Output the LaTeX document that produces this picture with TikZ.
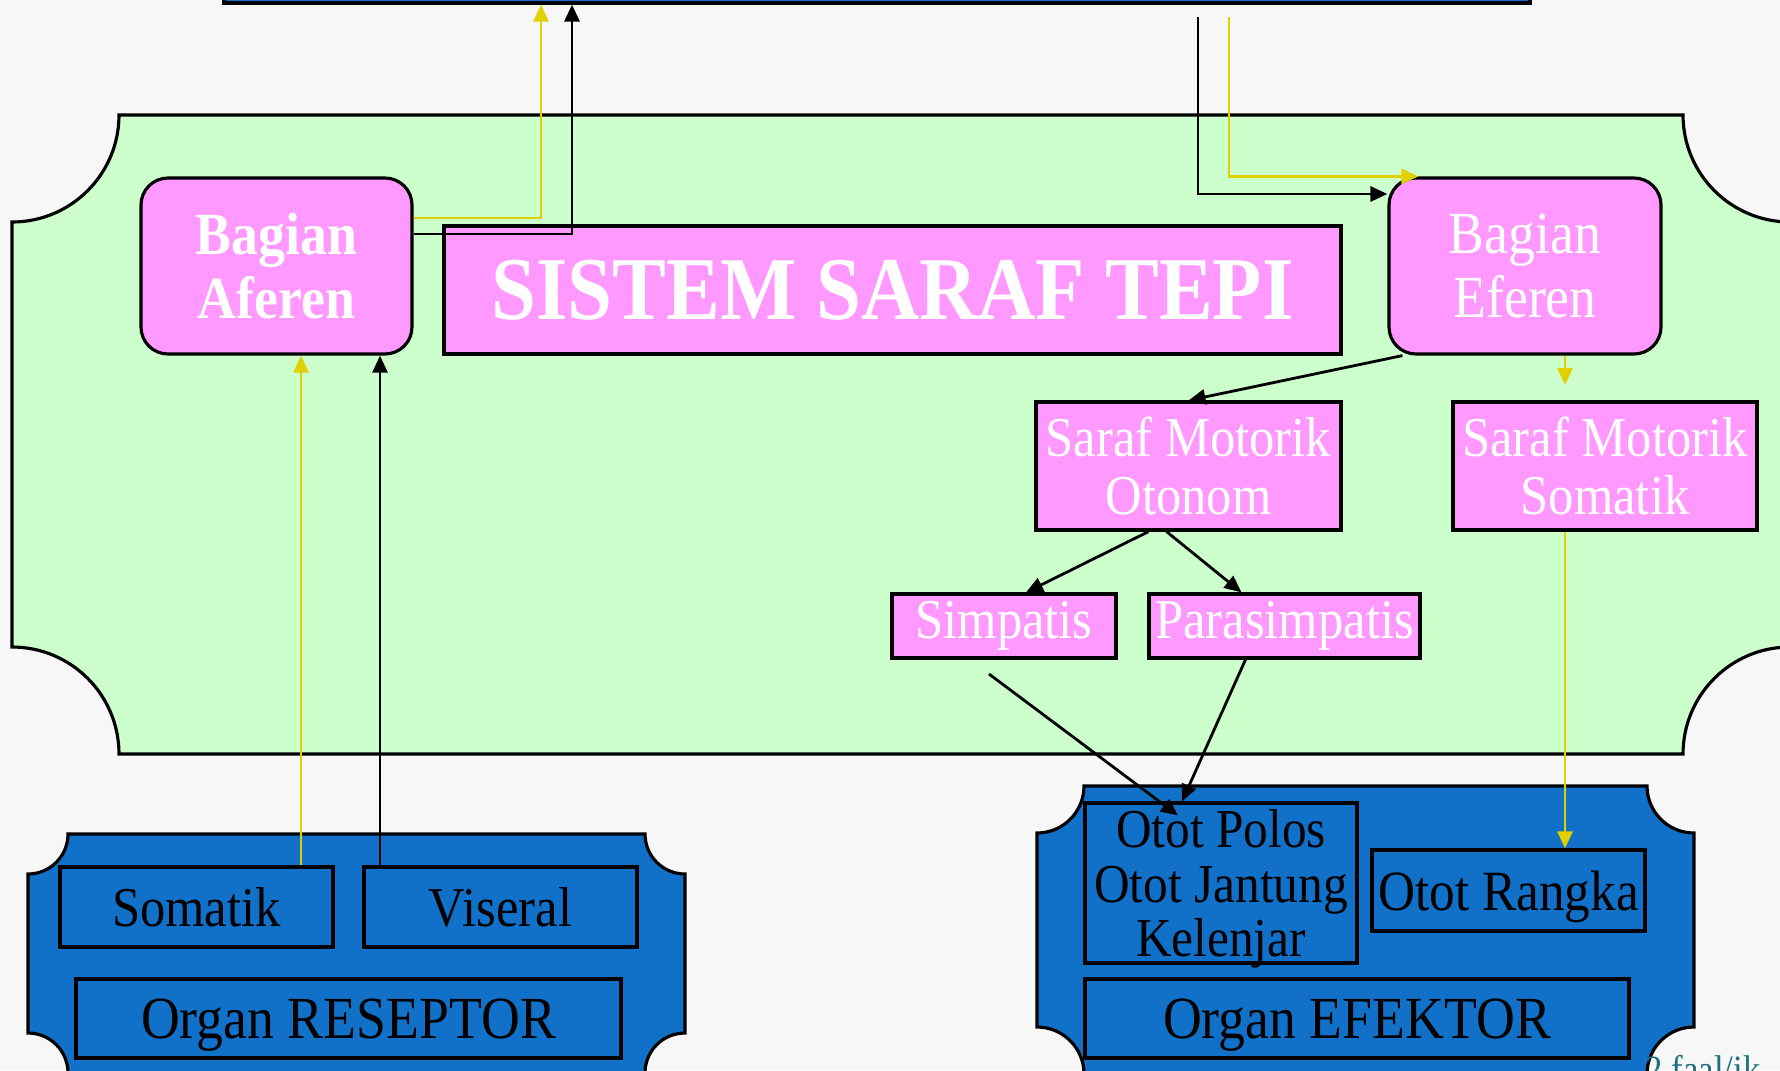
\documentclass[tikz,border=0pt]{standalone}
\usepackage{fontspec}
\setmainfont[FakeStretch=0.9]{Liberation Serif}
\usetikzlibrary{arrows.meta,calc}

\definecolor{pagebg}{HTML}{F7F7F7}
\definecolor{mint}{HTML}{CCFFCC}
\definecolor{pinkbox}{HTML}{FF99FF}
\definecolor{organblue}{HTML}{1170C8}
\definecolor{nerveyellow}{HTML}{E0D000}
\definecolor{footteal}{HTML}{216E80}

% panel with concave (scooped) corners: style, left, top, right, bottom, radius
\newcommand\ticketshape[6]{%
  \path[#1] (#2,#3+#6) .. controls (#2+0.5523*#6,#3+#6) and (#2+#6,#3+0.5523*#6) .. (#2+#6,#3)
    -- (#4-#6,#3) .. controls (#4-#6,#3+0.5523*#6) and (#4-0.5523*#6,#3+#6) .. (#4,#3+#6)
    -- (#4,#5-#6) .. controls (#4-0.5523*#6,#5-#6) and (#4-#6,#5-0.5523*#6) .. (#4-#6,#5)
    -- (#2+#6,#5) .. controls (#2+#6,#5-0.5523*#6) and (#2+0.5523*#6,#5-#6) .. (#2,#5-#6)
    -- cycle;}

\tikzset{
  pinkrect/.style={draw, line width=0.9pt, fill=pinkbox, text=white, inner sep=0pt, align=center},
  pinkround/.style={pinkrect, rounded corners=2.7mm},
  organbox/.style={draw, line width=0.9pt, fill=organblue, text=black, inner sep=0pt,
                   align=center, text depth=0pt},
  arr/.style={line width=0.8pt, -{Triangle[length=1.7mm,width=1.5mm]}},
  yarr/.style={arr, draw=nerveyellow},
  barr/.style={arr, draw=black},
}

\begin{document}
\begin{tikzpicture}[x=0.1mm, y=-0.1mm]
  \useasboundingbox (0,0) rectangle (1780,1070);
  \clip (0,0) rectangle (1780,1070);
  \fill[pagebg] (0,0) rectangle (1780,1070);

  % green peripheral nervous system panel
  \ticketshape{draw, line width=0.9pt, fill=mint}{12}{115}{1790}{754}{107}
  % blue organ panels
  \ticketshape{draw, line width=0.9pt, fill=organblue}{28}{834}{685}{1073}{40}
  \ticketshape{draw, line width=0.9pt, fill=organblue}{1037}{786}{1694}{1074}{47}

  % bar at the top (central nervous system)
  \node[organbox, minimum width=130.6mm, minimum height=2.3mm] (topbar) at (877,-8.5) {};

  % pink boxes
  \node[pinkround, minimum width=27.1mm, minimum height=17.6mm,
        font=\fontsize{17}{18.2}\selectfont\bfseries] (aferen) at (276.5,266) {Bagian\\Aferen};
  \node[pinkrect, minimum width=89.7mm, minimum height=12.8mm,
        font=\fontsize{25.5}{28}\selectfont\bfseries] (sistem) at (892.5,290) {SISTEM SARAF TEPI};
  \node[pinkround, minimum width=27.2mm, minimum height=17.6mm,
        font=\fontsize{17}{18.2}\selectfont] (eferen) at (1525,266) {Bagian\\Eferen};
  \node[pinkrect, minimum width=30.5mm, minimum height=12.8mm,
        font=\fontsize{16}{16.5}\selectfont] (otonom) at (1188.5,466) {Saraf Motorik\\Otonom};
  \node[pinkrect, minimum width=30.4mm, minimum height=12.8mm,
        font=\fontsize{16}{16.5}\selectfont] (motsomatik) at (1605,466) {Saraf Motorik\\Somatik};
  \node[pinkrect, minimum width=22.4mm, minimum height=6.4mm,
        font=\fontsize{16}{16}\selectfont] (simpatis) at (1004,626) {Simpatis};
  \node[pinkrect, minimum width=27.1mm, minimum height=6.4mm,
        font=\fontsize{16}{16}\selectfont] (parasimpatis) at (1284.5,626) {Parasimpatis};

  % receptor organ
  \node[organbox, minimum width=27.3mm, minimum height=8.0mm,
        font=\fontsize{16}{16}\selectfont] (somatik) at (196.5,907) {Somatik};
  \node[organbox, minimum width=27.3mm, minimum height=8.0mm,
        font=\fontsize{16}{16}\selectfont] (viseral) at (500.5,907) {Viseral};
  \node[organbox, minimum width=54.5mm, minimum height=7.9mm,
        font=\fontsize{17}{17}\selectfont] (reseptor) at (348.5,1018.5) {Organ RESEPTOR};

  % effector organ
  \node[organbox, minimum width=27.2mm, minimum height=16.0mm,
        font=\fontsize{15.6}{15.5}\selectfont] (ototpolos) at (1221,883) {Otot Polos\\Otot Jantung\\Kelenjar};
  \node[organbox, minimum width=27.3mm, minimum height=8.1mm,
        font=\fontsize{16.2}{16.2}\selectfont] (ototrangka) at (1508.5,890.5) {Otot Rangka};
  \node[organbox, minimum width=54.4mm, minimum height=7.9mm,
        font=\fontsize{17}{17}\selectfont] (efektor) at (1357,1018.5) {Organ EFEKTOR};

  % footer
  \node[anchor=base west, inner sep=0pt, text=footteal,
        font=\fontsize{11}{11}\selectfont] (footer) at (1645,1082) {2 faal/ik};

  % helper coordinates for connector columns and rows
  \coordinate (ax1) at (301,0);
  \coordinate (ax2) at (380,0);
  \coordinate (ax3) at (541,0);
  \coordinate (ax4) at (572,0);
  \coordinate (ay1) at (0,218);
  \coordinate (ay2) at (0,234);
  \coordinate (bt1) at (1198,17);
  \coordinate (bt2) at (1229,17);
  \coordinate (by1) at (0,194);
  \coordinate (rx)  at (1565,0);
  \coordinate (yend) at (1565,385);
  \coordinate (simout) at (989,674);

  % afferent pathway
  \draw[yarr] (somatik.north -| ax1) -- (aferen.south -| ax1);
  \draw[barr] (viseral.north -| ax2) -- (aferen.south -| ax2);
  \draw[yarr] (aferen.east |- ay1) -| (topbar.south -| ax3);
  \draw[barr] (aferen.east |- ay2) -| (topbar.south -| ax4);

  % efferent pathway
  \draw[barr] (bt1) |- (eferen.west |- by1);
  \draw[yarr] (bt2) |- ([xshift=3.1mm]eferen.north west);
  \draw[barr] ([xshift=1.5mm]eferen.south west) -- (otonom.north);
  \draw[yarr] (eferen.south -| rx) -- (yend);
  \draw[yarr] (motsomatik.south -| rx) -- (ototrangka.north -| rx);
  \draw[barr] ([xshift=-4mm]otonom.south) -- ([xshift=2.2mm]simpatis.north);
  \draw[barr] ([xshift=-2.2mm]otonom.south) -- ([xshift=-4.3mm]parasimpatis.north);
  \draw[barr] (simout) -- ([xshift=-4.3mm,yshift=-1.4mm]ototpolos.north);
  \draw[barr] ([xshift=-3.9mm]parasimpatis.south) -- ([xshift=-3.9mm]ototpolos.north);
\end{tikzpicture}
\end{document}
